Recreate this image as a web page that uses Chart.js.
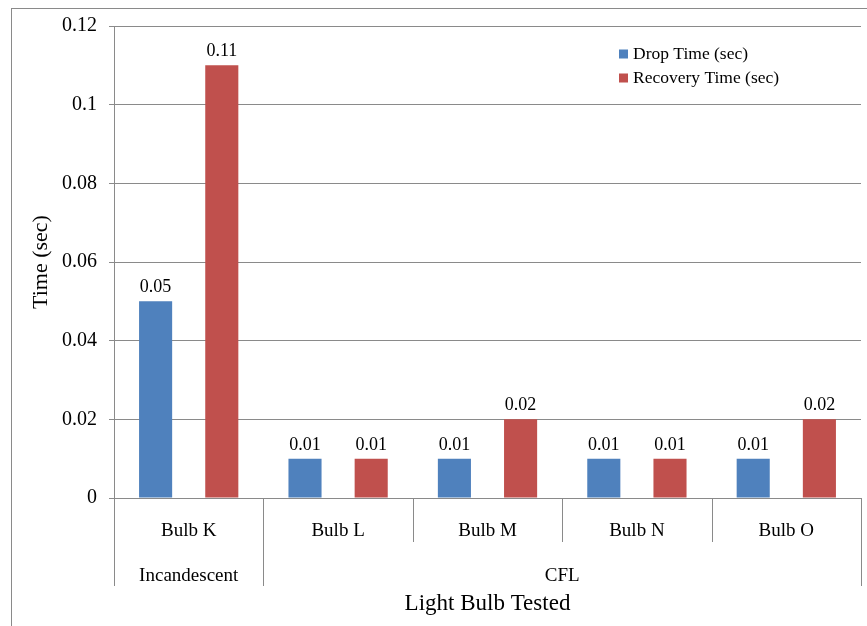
<!DOCTYPE html>
<html>
<head>
<meta charset="utf-8">
<script src="https://cdn.jsdelivr.net/npm/chart.js@4/dist/chart.umd.min.js"></script>
<style>
  html, body { margin: 0; padding: 0; background: #ffffff; }
  #wrap { width: 867px; height: 626px; position: relative; }
</style>
</head>
<body>
<div id="wrap"><canvas id="chart" width="867" height="626"></canvas></div>
<script>
// Bulbs tested and their type groups
const bulbs = ['Bulb K', 'Bulb L', 'Bulb M', 'Bulb N', 'Bulb O'];
const bulbTypes = [
  { name: 'Incandescent', from: 0, to: 0 },
  { name: 'CFL', from: 1, to: 4 }
];

// Measured times (seconds)
const dropTime = [0.05, 0.01, 0.01, 0.01, 0.01];
const recoveryTime = [0.11, 0.01, 0.02, 0.01, 0.02];

// Y axis range and step
const yMin = 0;
const yMax = 0.12;
const yStep = 0.02;

const SERIF = '"Liberation Serif", "Times New Roman", serif';
const GRID = '#8a8a8a';
const BLUE = '#4F81BD';
const RED = '#C0504D';

const fmt = v => String(Number(v.toFixed(2)));

// Outer frame, group row, category separators, value labels and legend
const decorations = {
  id: 'decorations',
  beforeDraw(chart) {
    const ctx = chart.ctx;
    ctx.save();
    ctx.strokeStyle = GRID;
    ctx.lineWidth = 1;
    ctx.strokeRect(11.5, 8.5, 1000, 1000);
    ctx.restore();
  },
  afterDraw(chart) {
    const ctx = chart.ctx;
    const x = chart.scales.x;
    const area = chart.chartArea;
    const edge = i => Math.round(x.getPixelForValue(i - 0.5)) + 0.5;

    ctx.save();
    ctx.strokeStyle = GRID;
    ctx.lineWidth = 1;
    const groupEdges = new Set();
    bulbTypes.forEach(g => { groupEdges.add(g.from); groupEdges.add(g.to + 1); });
    for (let i = 0; i <= bulbs.length; i++) {
      const px = edge(i);
      const len = groupEdges.has(i) ? 88 : 44;
      ctx.beginPath();
      ctx.moveTo(px, area.bottom);
      ctx.lineTo(px, area.bottom + len);
      ctx.stroke();
    }

    // group labels
    ctx.fillStyle = '#000';
    ctx.font = '19px ' + SERIF;
    ctx.textAlign = 'center';
    ctx.textBaseline = 'middle';
    bulbTypes.forEach(g => {
      const cx = (x.getPixelForValue(g.from - 0.5) + x.getPixelForValue(g.to + 0.5)) / 2;
      ctx.fillText(g.name, cx, area.bottom + 78);
    });

    // value labels above bars
    ctx.font = '18px ' + SERIF;
    ctx.textBaseline = 'alphabetic';
    chart.data.datasets.forEach((ds, di) => {
      const meta = chart.getDatasetMeta(di);
      meta.data.forEach((bar, i) => {
        ctx.fillText(fmt(ds.data[i]), bar.x, bar.y - 9);
      });
    });

    // legend
    ctx.font = '17.5px ' + SERIF;
    ctx.textAlign = 'left';
    ctx.textBaseline = 'middle';
    chart.data.datasets.forEach((ds, di) => {
      const cy = 54 + di * 24;
      ctx.fillStyle = ds.backgroundColor;
      ctx.fillRect(619, cy - 4.5, 9, 9);
      ctx.fillStyle = '#000';
      ctx.fillText(ds.label, 633, cy);
    });
    ctx.restore();
  }
};

new Chart(document.getElementById('chart'), {
  type: 'bar',
  data: {
    labels: bulbs,
    datasets: [
      { label: 'Drop Time (sec)', data: dropTime, backgroundColor: BLUE },
      { label: 'Recovery Time (sec)', data: recoveryTime, backgroundColor: RED }
    ]
  },
  options: {
    responsive: false,
    animation: false,
    events: [],
    categoryPercentage: 0.886,
    barPercentage: 0.5,
    layout: { padding: { left: 24, right: 6, top: 26, bottom: 4 } },
    plugins: {
      legend: { display: false },
      tooltip: { enabled: false }
    },
    scales: {
      x: {
        offset: true,
        grid: { display: true, drawOnChartArea: false, drawTicks: false, color: GRID },
        border: { display: true, color: GRID },
        ticks: { color: '#000', font: { family: SERIF, size: 19 }, padding: 22, maxRotation: 0, autoSkip: false },
        title: { display: true, text: 'Light Bulb Tested', color: '#000', font: { family: SERIF, size: 23 } },
        afterFit(scale) { scale.height = 124; }
      },
      y: {
        min: yMin,
        max: yMax,
        ticks: {
          stepSize: yStep,
          color: '#000',
          font: { family: SERIF, size: 20 },
          padding: 12,
          callback: v => fmt(v)
        },
        grid: { color: GRID, tickLength: 5 },
        border: { display: true, color: GRID },
        title: { display: true, text: 'Time (sec)', color: '#000', font: { family: SERIF, size: 22 } },
        afterFit(scale) { scale.width = 90; }
      }
    }
  },
  plugins: [decorations]
});
</script>
</body>
</html>
